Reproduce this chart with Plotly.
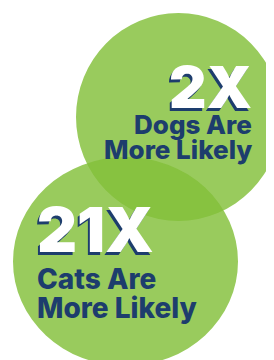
import plotly.graph_objects as go

# Data
multipliers = ["2X", "21X"]
headlines = ["Dogs Are", "Cats Are"]
sublines = ["More Likely", "More Likely"]

# Styling / layout (pixel coordinates of the canvas)
W, H = 274, 360
circle_boxes = [  # (x0, y0, x1, y1)
    (68, 5, 273, 213),
    (5, 149, 230, 358),
]
circle_color = "rgb(130,192,57)"
circle_opacity = 0.82
navy = "#1d3d6d"
font_family = "Inter, Roboto, 'Open Sans', sans-serif"

text_pos = [
    dict(x=246, anchor="right", y_num=79, y_h=116, y_s=141, num_size=58, txt_size=26),
    dict(x=27, anchor="left", y_num=221, y_h=271, y_s=300, num_size=62, txt_size=28),
]

fig = go.Figure()
fig.add_trace(go.Scatter(x=[0, W], y=[0, H], mode="markers",
                         marker=dict(opacity=0), hoverinfo="skip", showlegend=False))

for (x0, y0, x1, y1) in circle_boxes:
    fig.add_shape(type="circle", xref="x", yref="y", x0=x0, y0=y0, x1=x1, y1=y1,
                  fillcolor=circle_color, opacity=circle_opacity, line=dict(width=0),
                  layer="below")

annotations = []
for i, p in enumerate(text_pos):
    # shadow of the big number
    annotations.append(dict(x=p["x"] - 2, y=p["y_num"] + 3, text=multipliers[i],
                            xanchor=p["anchor"], yanchor="middle", showarrow=False,
                            font=dict(family=font_family, size=p["num_size"], color=navy,
                                      weight=900)))
    annotations.append(dict(x=p["x"], y=p["y_num"], text=multipliers[i],
                            xanchor=p["anchor"], yanchor="middle", showarrow=False,
                            font=dict(family=font_family, size=p["num_size"], color="white",
                                      weight=900)))
    annotations.append(dict(x=p["x"], y=p["y_h"], text=headlines[i],
                            xanchor=p["anchor"], yanchor="middle", showarrow=False,
                            font=dict(family=font_family, size=p["txt_size"], color=navy,
                                      weight=800)))
    annotations.append(dict(x=p["x"], y=p["y_s"], text=sublines[i],
                            xanchor=p["anchor"], yanchor="middle", showarrow=False,
                            font=dict(family=font_family, size=p["txt_size"], color=navy,
                                      weight=800)))

fig.update_layout(
    width=W, height=H,
    margin=dict(l=0, r=0, t=0, b=0),
    paper_bgcolor="white", plot_bgcolor="white",
    xaxis=dict(range=[0, W], visible=False, fixedrange=True),
    yaxis=dict(range=[H, 0], visible=False, fixedrange=True),
    annotations=annotations,
    showlegend=False,
)

fig.write_html("out.html", config={"displayModeBar": False})
